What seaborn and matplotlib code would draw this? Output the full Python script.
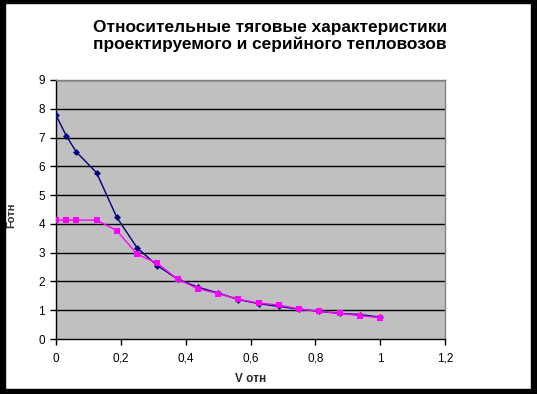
import matplotlib
matplotlib.use("Agg")
import matplotlib.pyplot as plt
from matplotlib.patches import Rectangle
from matplotlib.ticker import FuncFormatter
import seaborn as sns
import pandas as pd

v_rel = [0, 0.03125, 0.0625, 0.125, 0.1875, 0.25, 0.3125, 0.375, 0.4375, 0.5,
         0.5625, 0.625, 0.6875, 0.75, 0.8125, 0.875, 0.9375, 1.0]
f_project = [7.78, 7.07, 6.50, 5.78, 4.23, 3.17, 2.55, 2.08, 1.80, 1.60,
             1.37, 1.23, 1.13, 1.04, 0.96, 0.89, 0.85, 0.76]
f_serial = [4.13, 4.13, 4.13, 4.13, 3.77, 2.95, 2.63, 2.08, 1.75, 1.58,
            1.38, 1.25, 1.18, 1.04, 0.96, 0.89, 0.81, 0.74]
x_ticks = [0, 0.2, 0.4, 0.6, 0.8, 1.0, 1.2]
y_ticks = list(range(0, 10))
title = "Относительные тяговые характеристики\nпроектируемого и серийного тепловозов"
x_label = "V отн"
y_label = "Fотн"

sns.set_theme(style="white")
plt.rcParams['font.family'] = ['Liberation Sans', 'DejaVu Sans']

W, H = 537, 394
fig = plt.figure(figsize=(W / 100, H / 100), dpi=100)
fig.patch.set_facecolor("white")
ax = fig.add_axes([56 / W, (H - 339) / H, (445 - 56) / W, (339 - 80) / H])
ax.set_facecolor("#C0C0C0")

df1 = pd.DataFrame({"v": v_rel, "f": f_project})
df2 = pd.DataFrame({"v": v_rel, "f": f_serial})
sns.lineplot(data=df1, x="v", y="f", ax=ax, color="#000080", lw=1.0,
             marker="D", markersize=3.5, markeredgewidth=0, sort=False, zorder=3)
sns.lineplot(data=df2, x="v", y="f", ax=ax, color="#FF00FF", lw=1.0,
             marker="s", markersize=4.5, markeredgewidth=0, sort=False, zorder=4)

ax.set_xlim(0, 1.2)
ax.set_ylim(0, 9)
ax.set_xticks(x_ticks)
ax.set_yticks(y_ticks)
ax.xaxis.set_major_formatter(FuncFormatter(lambda v, p: ("%g" % round(v, 1)).replace(".", ",")))
ax.yaxis.set_major_formatter(FuncFormatter(lambda v, p: "%d" % v))
ax.grid(False)
for yv in y_ticks[1:]:
    ax.axhline(yv, color="black", lw=1.0, zorder=1)

ax.tick_params(axis="both", direction="out", length=4, width=1, color="black",
               labelsize=8.5, labelcolor="black", pad=4, bottom=True, left=True)
ax.tick_params(axis="x", pad=6)
for s in ["left", "bottom"]:
    ax.spines[s].set_color("black")
    ax.spines[s].set_linewidth(1)
for s in ["right", "top"]:
    ax.spines[s].set_color("#808080")
    ax.spines[s].set_linewidth(1)

ax.set_xlabel(x_label, fontsize=8.5, fontweight="bold", labelpad=6)
ax.set_ylabel("")
fig.text(16 / W, (H - 215) / H, y_label, rotation=90, fontsize=8,
         fontweight="bold", ha="right", va="center", color="#333333")

fig.text(270 / W, (H - 36) / H, title, ha="center", va="center",
         fontsize=12.4, fontweight="bold", linespacing=1.15, color="black")

# black frame around the image
frame = dict(color="black", transform=None, zorder=10)
fig.patches.extend([
    Rectangle((0, 0), 5, H, **frame),
    Rectangle((0, H - 3), W, 3, **frame),
    Rectangle((W - 6, 0), 6, H, **frame),
    Rectangle((0, 0), W, 5, **frame),
])

fig.savefig("out.png", dpi=100)
